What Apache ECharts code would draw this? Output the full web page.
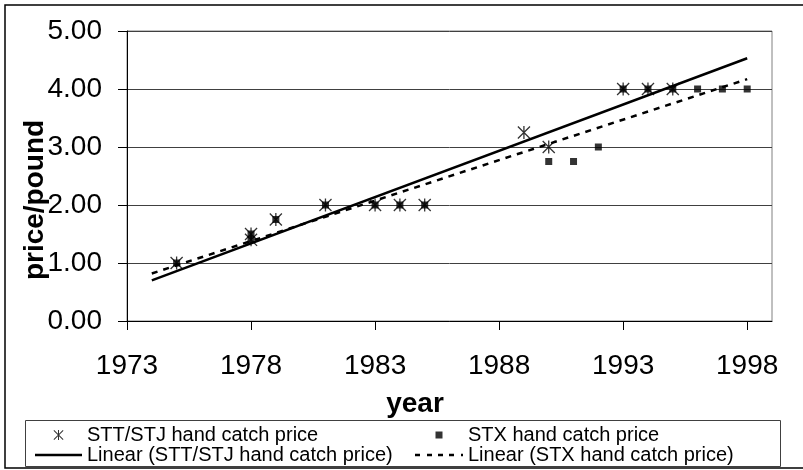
<!DOCTYPE html>
<html>
<head>
<meta charset="utf-8">
<title>hand catch price</title>
<script src="https://cdn.jsdelivr.net/npm/echarts@6/dist/echarts.min.js"></script>
</head>
<body style="margin:0">
<div id="chart" style="width:803px;height:470px;"></div>
<script type="text/javascript">

// points
var sttYears = [1975, 1978, 1978, 1979, 1981, 1983, 1984, 1985, 1989, 1990, 1993, 1994, 1995];
var sttPrice = [1.00, 1.50, 1.40, 1.75, 2.00, 2.00, 2.00, 2.00, 3.25, 3.00, 4.00, 4.00, 4.00];
var stxYears = [1975, 1978, 1978, 1979, 1981, 1983, 1984, 1985, 1990, 1991, 1992, 1993, 1994, 1995, 1996, 1997, 1998];
var stxPrice = [1.00, 1.50, 1.40, 1.75, 2.00, 2.00, 2.00, 2.00, 2.75, 2.75, 3.00, 4.00, 4.00, 4.00, 4.00, 4.00, 4.00];

// trend line ends (as drawn)
var trendYears = [1974, 1998];
var sttTrend = [0.70, 4.53];
var stxTrend = [0.82, 4.17];

var tickYears = [1973, 1978, 1983, 1988, 1993, 1998];

var names = ['STT/STJ hand catch price', 'STX hand catch price',
             'Linear (STT/STJ hand catch price)', 'Linear (STX hand catch price)'];

var font = '"Liberation Sans", Arial, sans-serif';
var asterisk = 'path://M4.5,0L5.5,0L5.5,10L4.5,10Z M0,0.7L0.7,0L10,9.3L9.3,10Z M10,0.7L0.7,10L0,9.3L9.3,0Z';
var squareIcon = 'path://M0,0H10V10H0Z';
var solidIcon = 'path://M0,0H47V2.5H0Z';
var dashIcon = 'path://M0,0H5V2.5H0Z M12,0H17V2.5H12Z M23,0H28V2.5H23Z M34,0H39V2.5H34Z M46,0H48V2.5H46Z';

function pairs(xs, ys) {
    var out = [];
    for (var i = 0; i < xs.length; i++) {
        out.push([xs[i], ys[i]]);
    }
    return out;
}

var myChart = echarts.init(document.getElementById('chart'));

var option = {
    animation: false,
    backgroundColor: '#fff',
    textStyle: {fontFamily: font},
    grid: {
        left: 127, top: 31, right: 31, bottom: 149,
        show: true, borderColor: '#808080', borderWidth: 1
    },
    xAxis: {
        type: 'value',
        min: 1973,
        max: 1999,
        interval: 5,
        axisLine: {lineStyle: {color: '#000', width: 1}},
        axisTick: {show: true, customValues: tickYears, length: 9, lineStyle: {color: '#000'}},
        axisLabel: {
            customValues: tickYears, margin: 31, fontSize: 28, color: '#000', fontFamily: font,
            formatter: function (v) { return String(v); }
        },
        splitLine: {show: false}
    },
    yAxis: {
        type: 'value',
        min: 0,
        max: 5,
        interval: 1,
        axisLine: {show: true, lineStyle: {color: '#000', width: 1}},
        axisTick: {show: true, length: 9, lineStyle: {color: '#000'}},
        axisLabel: {
            margin: 25, fontSize: 28, color: '#000', fontFamily: font,
            formatter: function (v) { return v.toFixed(2); }
        },
        splitLine: {lineStyle: {color: '#404040', width: 1}}
    },
    legend: [{
        left: 35, top: 425, orient: 'vertical', padding: 0,
        itemWidth: 47, itemHeight: 10, itemGap: 0,
        textStyle: {fontSize: 20, color: '#000', fontFamily: font},
        data: [{name: names[0], icon: asterisk}, {name: names[2], icon: solidIcon}]
    }, {
        left: 415, top: 425, orient: 'vertical', padding: 0,
        itemWidth: 48, itemHeight: 7, itemGap: 0,
        textStyle: {fontSize: 20, color: '#000', fontFamily: font},
        data: [{name: names[1], icon: squareIcon}, {name: names[3], icon: dashIcon}]
    }],
    graphic: [{
        type: 'rect',
        shape: {x: 5, y: 5, width: 820, height: 463},
        style: {fill: 'none', stroke: '#000', lineWidth: 1.5}
    }, {
        type: 'rect',
        shape: {x: 25.5, y: 420.5, width: 755, height: 46},
        style: {fill: 'none', stroke: '#404040', lineWidth: 1}
    }, {
        type: 'text',
        x: 35, y: 200,
        rotation: Math.PI / 2,
        style: {
            text: 'price/pound', font: 'bold 28px ' + font,
            textAlign: 'center', textVerticalAlign: 'middle', fill: '#000'
        }
    }, {
        type: 'text',
        x: 415, y: 404,
        style: {
            text: 'year', font: 'bold 28px ' + font,
            textAlign: 'center', textVerticalAlign: 'middle', fill: '#000'
        }
    }],
    series: [{
        name: names[0],
        type: 'scatter',
        symbol: asterisk,
        symbolSize: 13,
        itemStyle: {color: '#000'},
        data: pairs(sttYears, sttPrice)
    }, {
        name: names[1],
        type: 'scatter',
        symbol: 'rect',
        symbolSize: 7,
        itemStyle: {color: '#000'},
        data: pairs(stxYears, stxPrice)
    }, {
        name: names[2],
        type: 'line',
        symbol: 'none',
        lineStyle: {color: '#000', width: 2.5, type: 'solid'},
        itemStyle: {color: '#000'},
        data: pairs(trendYears, sttTrend)
    }, {
        name: names[3],
        type: 'line',
        symbol: 'none',
        lineStyle: {color: '#000', width: 2.5, type: [6, 6]},
        itemStyle: {color: '#000'},
        data: pairs(trendYears, stxTrend)
    }]
};

myChart.setOption(option);

</script>
</body>
</html>
